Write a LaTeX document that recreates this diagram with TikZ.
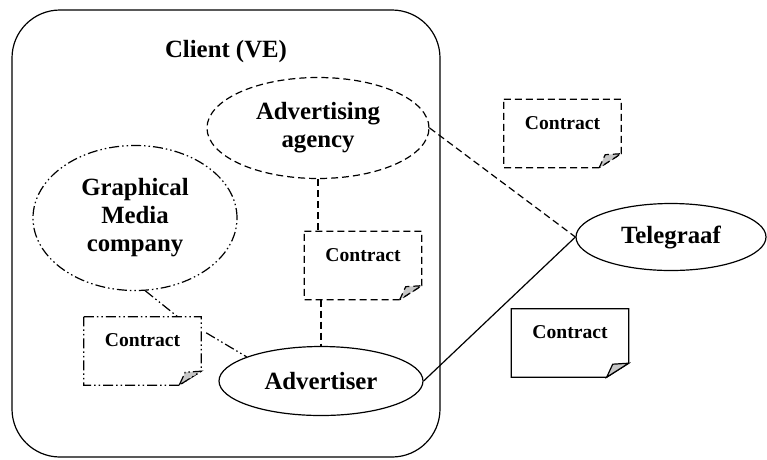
\documentclass[tikz,border=0pt]{standalone}
\usepackage{fontspec}
\setmainfont{Liberation Serif}
\usetikzlibrary{shapes.geometric,calc}
\tikzset{
  lw/.style={line width=1.2pt},
  dashline/.style={dash pattern=on 7pt off 4pt},
  dddline/.style={dash pattern=on 10pt off 3pt on 1.5pt off 3pt on 1.5pt off 3pt},
  bigtext/.style={font=\bfseries\fontsize{24.8}{28}\selectfont},
  party/.style={ellipse, draw, lw, inner sep=0pt, align=center, bigtext},
  contract/.style={rectangle, inner xsep=0pt, inner ysep=0pt, minimum width=117pt,
    text height=29.5pt, text depth=38.5pt, font=\bfseries\fontsize{19.6}{22}\selectfont},
}
% sheet outline with a curled lower right corner around a contract node
\newcommand\contractsheet[2]{%
  \draw[lw,#2] (#1.north west) -- (#1.north east) -- ([yshift=14pt]#1.south east)
    -- ([xshift=-22pt]#1.south east) -- (#1.south west) -- cycle;
  \filldraw[lw,#2,fill=black!22] ([xshift=-22pt]#1.south east)
    -- ([xshift=-16pt,yshift=13pt]#1.south east) -- ([yshift=14pt]#1.south east) -- cycle;
}
\begin{document}
\begin{tikzpicture}[x=1pt,y=-1pt]
\useasboundingbox (0,0) rectangle (767,459);

% client boundary
\node[draw, lw, rounded corners=48pt, minimum width=428pt, minimum height=447pt, inner sep=0pt]
  (client) at (226,233.5) {};
\node[bigtext] (title) at (226,52) {Client (VE)};

% parties
\node[party, dashline, minimum width=222pt, minimum height=101pt] (agency) at (318,128) {Advertising\\agency};
\node[party, dddline, minimum width=204pt, minimum height=145pt] (gm) at (135,218) {Graphical\\Media\\company};
\node[party, minimum width=204pt, minimum height=69pt] (adv) at (321,381) {Advertiser};
\node[party, minimum width=190pt, minimum height=67pt] (tel) at (671,237) {Telegraaf};

% contracts
\node[contract] (cgm) at (142.5,351) {Contract};
\node[contract] (cag) at (363,265.5) {Contract};
\node[contract] (ctr) at (562.5,133.5) {Contract};
\node[contract] (cso) at (570,343) {Contract};
\contractsheet{cgm}{dddline}
\contractsheet{cag}{dashline}
\contractsheet{ctr}{dashline}
\contractsheet{cso}{solid}

% relations
\draw[lw,dashline] (agency.south) -- (agency.south |- cag.north);
\draw[lw,dashline] (adv.north |- cag.south) -- (adv.north);
\draw[lw,dashline] (agency.east) -- (tel.west);
\draw[lw] (adv.east) -- (tel.west);
\draw[lw,dddline] (gm.-82) -- ($(cgm.north west)!0.8!(cgm.north east)$);
\draw[lw,dddline] ([xshift=5pt,yshift=-16pt]cgm.north east) -- (adv.162);
\end{tikzpicture}
\end{document}
